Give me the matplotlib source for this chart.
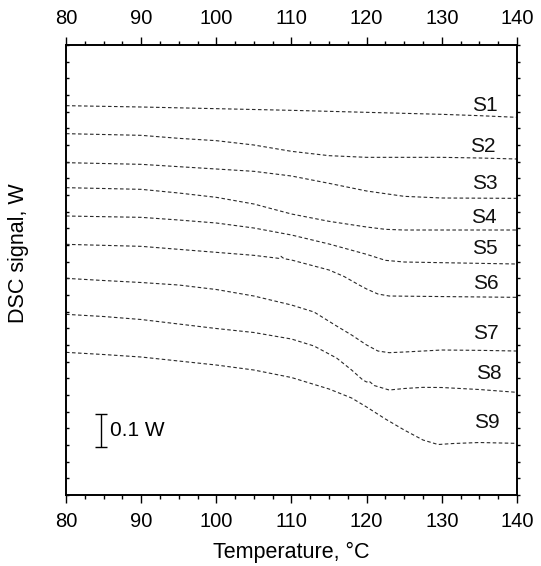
import matplotlib
matplotlib.use('Agg')
import matplotlib.pyplot as plt
from matplotlib.ticker import MultipleLocator

plt.rcParams['font.family'] = ['Liberation Sans', 'DejaVu Sans']

# DSC traces (temperature in C, signal in W, offset per sample)
t1 = [80, 90, 100, 110, 120, 130, 135, 140]
s1 = [1.168, 1.164, 1.159, 1.154, 1.148, 1.142, 1.138, 1.133]

t2 = [80, 90, 95, 100, 105, 110, 115, 120, 130, 135, 140]
s2 = [1.084, 1.079, 1.070, 1.063, 1.050, 1.031, 1.018, 1.013, 1.013, 1.011, 1.008]

t3 = [80, 90, 95, 100, 105, 110, 115, 120, 125, 130, 140]
s3 = [0.997, 0.992, 0.985, 0.978, 0.971, 0.957, 0.935, 0.912, 0.896, 0.891, 0.890]

t4 = [80, 90, 95, 100, 105, 110, 115, 120, 122.5, 125, 140]
s4 = [0.922, 0.917, 0.906, 0.893, 0.873, 0.843, 0.821, 0.804, 0.797, 0.795, 0.795]

t5 = [80, 90, 95, 100, 105, 110, 115, 120, 122.5, 125, 140]
s5 = [0.837, 0.833, 0.825, 0.816, 0.801, 0.780, 0.753, 0.722, 0.704, 0.699, 0.693]

t6 = [80, 90, 95, 100, 105, 108.3, 108.6, 109, 110, 115, 117, 119, 120, 121.5, 123, 140]
s6 = [0.752, 0.746, 0.737, 0.728, 0.719, 0.710, 0.716, 0.709, 0.705, 0.675, 0.6555,
      0.630, 0.618, 0.603, 0.597, 0.593]

t7 = [80, 85, 90, 95, 100, 105, 110, 113, 116, 118, 120, 121.5, 123, 125, 130, 135, 140]
s7 = [0.650, 0.6435, 0.6375, 0.630, 0.6165, 0.597, 0.570, 0.549, 0.507, 0.480, 0.450,
      0.432, 0.427, 0.429, 0.435, 0.434, 0.432]

t8 = [80, 85, 90, 95, 100, 105, 110, 113, 116, 118, 119.5, 120, 120.3, 121, 123, 125,
      127.5, 130, 135, 140]
s8 = [0.542, 0.5355, 0.5265, 0.513, 0.4995, 0.4875, 0.468, 0.447, 0.411, 0.375, 0.345,
      0.339, 0.342, 0.3285, 0.315, 0.3195, 0.323, 0.3225, 0.3165, 0.308]

t9 = [80, 85, 90, 95, 100, 105, 110, 115, 118, 120, 122.5, 125, 127.5, 129.5, 131.5, 135, 140]
s9 = [0.428, 0.4215, 0.414, 0.402, 0.390, 0.375, 0.3525, 0.318, 0.291, 0.264, 0.228,
      0.195, 0.165, 0.1515, 0.1545, 0.1575, 0.155]

temps = [t1, t2, t3, t4, t5, t6, t7, t8, t9]
signals = [s1, s2, s3, s4, s5, s6, s7, s8, s9]

labels = ['S1', 'S2', 'S3', 'S4', 'S5', 'S6', 'S7', 'S8', 'S9']
label_t = [135.7, 135.5, 135.7, 135.6, 135.7, 135.8, 135.8, 136.3, 136.0]
label_y = [1.170, 1.045, 0.935, 0.832, 0.740, 0.635, 0.485, 0.365, 0.218]

# 0.1 W scale bar
bar_t = 84.6
bar_y = 0.194
bar_len = 0.1

fig = plt.figure(figsize=(5.41, 5.66), dpi=100)
ax = fig.add_axes([0.122, 0.1254, 0.8336, 0.7951])

for t, s in zip(temps, signals):
    ax.plot(t, s, color='#2a2a2a', lw=0.8, dashes=(3.2, 2.2))

for lab, lt, ly in zip(labels, label_t, label_y):
    ax.text(lt, ly, lab, fontsize=15, ha='center', va='center', color='#111111')

ax.errorbar([bar_t], [bar_y], yerr=bar_len / 2, fmt='none', ecolor='black',
            elinewidth=1.0, capsize=4.3, capthick=1.0)
ax.text(bar_t + 1.3, bar_y, '0.1 W', fontsize=15, ha='left', va='center')

ax.set_xlim(80, 140)
ax.set_ylim(0, 1.35)
ax.xaxis.set_major_locator(MultipleLocator(10))
ax.xaxis.set_minor_locator(MultipleLocator(2.5))
ax.yaxis.set_major_locator(MultipleLocator(0.05))

ax.tick_params(axis='x', which='major', direction='out', length=6, width=1.0,
               labelsize=14.5, pad=6, top=True, labeltop=True)
ax.tick_params(axis='x', which='minor', direction='out', length=3, width=1.0, top=True)
ax.tick_params(axis='y', which='major', direction='in', length=2.5, width=1.0,
               left=True, right=False, labelleft=False)

# right-hand spine carries small outward ticks
ax2 = ax.twinx()
ax2.set_ylim(0, 1.35)
ax2.yaxis.set_major_locator(MultipleLocator(0.05))
ax2.tick_params(axis='y', direction='out', length=2.5, width=1.0, labelright=False)

for a in (ax, ax2):
    for sp in a.spines.values():
        sp.set_linewidth(1.2)

ax.set_xlabel('Temperature, \u00b0C', fontsize=15.5, labelpad=8)
fig.text(19 / 541, 1 - 253 / 566, 'DSC signal, W', rotation=90, fontsize=15.5,
         ha='center', va='center')

fig.savefig('out.png', dpi=100)
